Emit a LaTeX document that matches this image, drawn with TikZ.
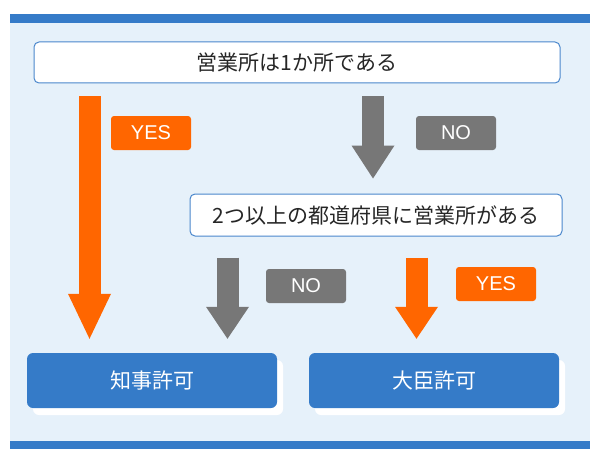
\documentclass[tikz,border=0pt]{standalone}
\usepackage{fontspec}
\setmainfont{Noto Sans CJK JP}
\newfontfamily\latinfont{Liberation Sans}
\usetikzlibrary{arrows.meta,shadows}
\definecolor{barblue}{HTML}{357BC8}
\definecolor{paleblue}{HTML}{E6F1FA}
\definecolor{lineblue}{HTML}{4A87CC}
\definecolor{yesorange}{HTML}{FF6600}
\definecolor{nogray}{HTML}{777777}
\tikzset{
  question/.style={draw=lineblue,line width=1pt,fill=white,rounded corners=5pt,inner sep=0pt,
    font=\fontsize{21}{25}\selectfont,text=black!85},
  permit/.style={fill=barblue,rounded corners=6pt,text=white,minimum width=250pt,minimum height=55pt,
    inner sep=0pt,font=\fontsize{21}{25}\selectfont,
    drop shadow={shadow xshift=6pt,shadow yshift=-7pt,fill=white,opacity=1}},
  answer/.style={rounded corners=3pt,text=white,minimum width=80pt,minimum height=34pt,inner sep=0pt,
    font=\latinfont\fontsize{20}{24}\selectfont},
  bigarrow/.style={line width=22pt,-{Triangle[width=43pt,length=#1,line width=0pt]}},
  yesarrow/.style={yesorange,bigarrow=#1},
  noarrow/.style={nogray,bigarrow=#1}
}
\begin{document}
\begin{tikzpicture}[x=1pt,y=-1pt]
\useasboundingbox (0,0) rectangle (600,460);
\fill[paleblue] (10,14) rectangle (590,449);
\fill[barblue] (10,14) rectangle (590,23);
\fill[barblue] (10,441) rectangle (590,449);

\node[question,minimum width=526pt,minimum height=41pt] (q1) at (297,62.5) {営業所は1か所である};
\node[question,minimum width=372pt,minimum height=42pt] (q2) at (376,215) {2つ以上の都道府県に営業所がある};
\node[permit] (chiji) at (152,380.5) {知事許可};
\node[permit] (daijin) at (434,380.5) {大臣許可};

\node[answer,fill=yesorange] (yes1) at (151,133) {YES};
\node[answer,fill=nogray] (no1) at (456,133) {NO};
\node[answer,fill=nogray] (no2) at (306,286) {NO};
\node[answer,fill=yesorange] (yes2) at (496,284) {YES};

\coordinate (a1) at (89.5,0);
\coordinate (b1) at (373,0);
\coordinate (c1) at (227.5,0);
\coordinate (d1) at (416.5,0);
\draw[yesarrow=45pt,shorten <=13pt,shorten >=14pt] (q1.south -| a1) -- (chiji.north -| a1);
\draw[noarrow=33pt,shorten <=13pt,shorten >=15pt] (q1.south -| b1) -- (q2.north -| b1);
\draw[noarrow=32pt,shorten <=21pt,shorten >=14pt] (q2.south -| c1) -- (chiji.north -| c1);
\draw[yesarrow=32pt,shorten <=21pt,shorten >=14pt] (q2.south -| d1) -- (daijin.north -| d1);
\end{tikzpicture}
\end{document}
